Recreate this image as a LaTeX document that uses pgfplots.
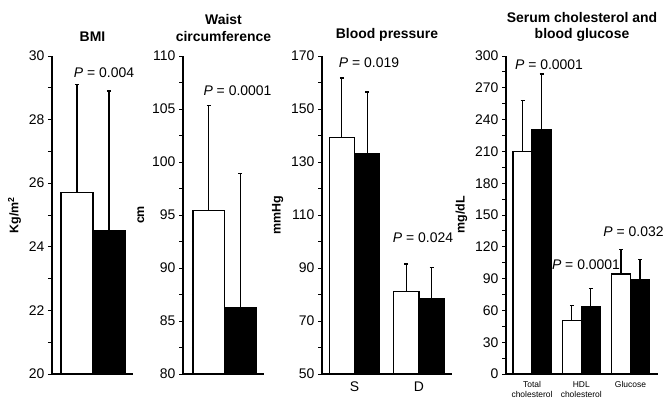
\documentclass[border=0pt]{standalone}
\usepackage{fontspec}
\setmainfont{Liberation Sans}
\usepackage{pgfplots}
\pgfplotsset{compat=1.18}

\tikzset{plab/.style={font=\fontsize{14}{16}\selectfont, anchor=center}}
\pgfplotsset{
  panel/.style={
    scale only axis, height=318bp,
    axis x line=bottom, axis y line=left,
    axis line style={line width=1.2bp, -},
    ybar=0pt,
    xtick=\empty,
    tick align=outside,
    major tick length=4bp, minor tick length=4bp,
    minor y tick num=1,
    tick style={line width=0.9bp, black},
    x tick style={draw=none},
    every tick label/.append style={font=\fontsize{14}{16}\selectfont},
    /pgf/number format/assume math mode=true,
    ylabel style={font=\bfseries\fontsize{12.5}{14}\selectfont, yshift=1bp},
    title style={font=\bfseries\fontsize{14}{16.5}\selectfont, align=center, at={(0.5,1)}, anchor=south, yshift=5bp},
    clip=false,
    anchor=south west,
  },
  wbar/.style={fill=white, draw=black, line width=1.2bp,
    error bars/.cd, y dir=plus, y explicit,
    error bar style={line width=1.1bp, black},
    error mark options={line width=1.1bp, mark size=2bp, black, rotate=90}},
  bbar/.style={fill=black, draw=black, line width=1.2bp,
    error bars/.cd, y dir=plus, y explicit,
    error bar style={line width=1.1bp, black},
    error mark options={line width=1.1bp, mark size=2bp, black, rotate=90}},
}

\begin{document}
\begin{tikzpicture}
\path[use as bounding box] (0,0) rectangle (672bp,411bp);

% Panel 1: BMI
\begin{axis}[panel, at={(52bp,37bp)}, width=81bp,
  xmin=-41, xmax=40, ymin=20, ymax=30, ytick={20,22,...,30},
  bar width=32bp, title={BMI}, ylabel={Kg/m\textsuperscript{2}}]
\addplot[wbar] coordinates {(0,25.7) +- (0,3.4)};
\addplot[bbar] coordinates {(0,24.5) +- (0,4.4)};
\node[plab] at (axis cs:11,29.47) {\textit{P} = 0.004};
\end{axis}

% Panel 2: Waist circumference
\begin{axis}[panel, at={(183bp,37bp)}, width=81bp,
  xmin=-41.5, xmax=39.5, ymin=80, ymax=110, ytick={80,85,...,110},
  bar width=31.5bp, title={Waist\\circumference}, ylabel={cm}]
\addplot[wbar] coordinates {(0,95.4) +- (0,9.9)};
\addplot[bbar] coordinates {(0,86.3) +- (0,12.6)};
\node[plab] at (axis cs:13,106.7) {\textit{P} = 0.0001};
\end{axis}

% Panel 3: Blood pressure
\begin{axis}[panel, at={(322bp,37bp)}, width=130bp,
  xmin=-0.504, xmax=1.512, ymin=50, ymax=170, ytick={50,70,...,170},
  xtick={0,1}, xticklabels={S,D},
  bar width=25.2bp, title={Blood pressure}, ylabel={mmHg}]
\addplot[wbar] coordinates {(0,139.1) +- (0,22.6) (1,81.2) +- (0,10.3)};
\addplot[bbar] coordinates {(0,133.0) +- (0,23.4) (1,78.3) +- (0,11.9)};
\node[plab] at (axis cs:0.225,167.4) {\textit{P} = 0.019};
\node[plab] at (axis cs:1.062,101.3) {\textit{P} = 0.024};
\end{axis}

% Panel 4: Serum cholesterol and blood glucose
\begin{axis}[panel, at={(506bp,37bp)}, width=152bp,
  xmin=-0.528, xmax=2.558, ymin=0, ymax=300, ytick={0,30,...,300},
  xtick={0,1,2}, xticklabels={{Total\\cholesterol},{HDL\\cholesterol},{Glucose}},
  xticklabel style={font=\fontsize{8.5}{10}\selectfont, align=center},
  bar width=19bp, title={Serum cholesterol and\\blood glucose}, ylabel={mg/dL}]
\addplot[wbar] coordinates {(0,210) +- (0,48) (1,50.3) +- (0,14.2) (2,94.3) +- (0,23)};
\addplot[bbar] coordinates {(0,231) +- (0,52) (1,63.5) +- (0,17.3) (2,88.7) +- (0,19.1)};
\node[plab] at (axis cs:0.345,291.5) {\textit{P} = 0.0001};
\node[plab] at (axis cs:1.096,102.8) {\textit{P} = 0.0001};
\node[plab] at (axis cs:2.061,134) {\textit{P} = 0.032};
\end{axis}
\end{tikzpicture}
\end{document}
